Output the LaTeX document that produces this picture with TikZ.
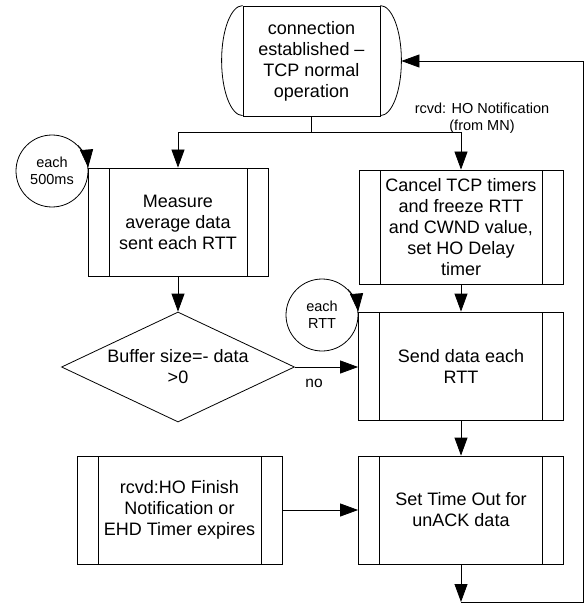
\documentclass[tikz,border=0pt]{standalone}
\usepackage{fontspec}
\setmainfont{Liberation Sans}
\usetikzlibrary{arrows.meta,shapes.geometric}
\begin{document}
\begin{tikzpicture}[x=1pt,y=1pt,
  line width=0.8pt,
  every node/.style={font=\fontsize{18}{21}\selectfont, align=center, inner sep=0pt},
  proc/.style={draw, rectangle, minimum width=#1, minimum height=108pt,
     path picture={\draw ([xshift=21pt]path picture bounding box.north west) -- ([xshift=21pt]path picture bounding box.south west);
       \draw ([xshift=-21pt]path picture bounding box.north east) -- ([xshift=-21pt]path picture bounding box.south east);}},
  arr/.style={-{Triangle[length=18pt,width=13pt]}},
  small/.style={font=\fontsize{14.5}{17}\selectfont},
  timer/.style={draw, circle, minimum size=72pt, small}
]
\useasboundingbox (0,0) rectangle (587,-604);

% start / terminator node
\node[draw, minimum width=137pt, minimum height=110pt] (top) at (311.5,-61)
  {connection\\established –\\TCP normal\\operation};
\draw (top.north west) arc[start angle=90, end angle=270, x radius=21pt, y radius=55pt];
\draw (top.north east) arc[start angle=90, end angle=-90, x radius=21pt, y radius=55pt];
\coordinate (topR) at ([xshift=21pt]top.east);

% process boxes
\node[proc=180pt] (meas) at (178,-222) {Measure\\average data\\sent each RTT};
\node[proc=204pt, minimum height=114pt] (cancel) at (461,-227)
  {Cancel TCP timers\\and freeze RTT\\and CWND value,\\set HO Delay\\timer};
\node[proc=205pt] (send) at (461,-366) {Send data each\\RTT};
\node[proc=205pt] (settime) at (461,-510) {Set Time Out for\\unACK data};
\node[proc=205pt] (finish) at (179.5,-510) {rcvd:HO Finish\\Notification or\\EHD Timer expires};

% decision
\node[diamond, draw, minimum width=233pt, minimum height=110pt, shape aspect=2.12] (buf) at (178,-367)
  {Buffer size=- data\\>0};

% timers
\node[timer] (t500) at (52,-171) {each\\500ms};
\node[timer] (trtt) at (322,-315) {each\\RTT};
\draw[arr] (t500.45) arc[start angle=45, end angle=5, radius=36pt];
\draw[arr] (trtt.45) arc[start angle=45, end angle=5, radius=36pt];

% connectors
\coordinate (split) at ([yshift=-16pt]top.south);
\draw (top.south) -- (split);
\draw[arr] (split) -| (meas.north);
\draw[arr] (split) -| (cancel.north);
\node[small] (lbl) at (482,-118) {rcvd: HO Notification\\(from MN)};

\draw[arr] (meas.south) -- (buf.north);
\draw[arr] (buf.east) -- (buf.east -| send.west);
\node[small, font=\fontsize{15.5}{18}\selectfont] (no) at (314,-383) {no};

\draw[arr] (cancel.south) -- (send.north);
\draw[arr] (send.south) -- (settime.north);
\draw[arr] (finish.east) -- (settime.west);

\coordinate (lb) at (461,-602);
\coordinate (rb) at (583,-602);
\draw[arr] (settime.south) -- (lb);
\draw[arr] (lb) -- (rb) |- (topR);
\end{tikzpicture}
\end{document}
